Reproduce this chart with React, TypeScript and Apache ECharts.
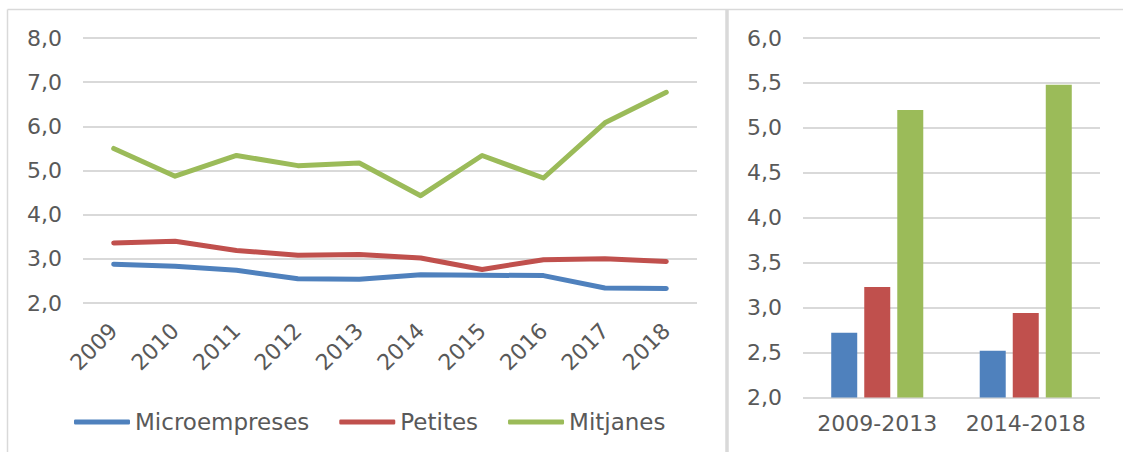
import React, { useEffect, useRef } from "react";
import * as echarts from "echarts";

const years = ["2009", "2010", "2011", "2012", "2013", "2014", "2015", "2016", "2017", "2018"];
const micro = [2.88, 2.83, 2.74, 2.55, 2.54, 2.64, 2.63, 2.62, 2.34, 2.33];
const petites = [3.36, 3.4, 3.19, 3.08, 3.1, 3.02, 2.76, 2.98, 3.0, 2.94];
const mitjanes = [5.5, 4.87, 5.34, 5.11, 5.17, 4.43, 5.34, 4.83, 6.08, 6.77];

const periods = ["2009-2013", "2014-2018"];
const microPeriod = [2.72, 2.52];
const petitesPeriod = [3.23, 2.94];
const mitjanesPeriod = [5.2, 5.48];

const names = ["Microempreses", "Petites", "Mitjanes"];
const colors = ["#4f81bd", "#c0504d", "#9bbb59"];

const FONT = "DejaVu Sans";
const TXT = "#595959";
const GRID = "#d9d9d9";

const fmt = (v: number) => v.toFixed(1).replace(".", ",");

export default function App() {
  const ref = useRef<HTMLDivElement>(null);
  useEffect(() => {
    if (!ref.current) return;
    const chart = echarts.init(ref.current, undefined, { renderer: "svg" });
    const lineData = [micro, petites, mitjanes];
    const barData = [microPeriod, petitesPeriod, mitjanesPeriod];
    chart.setOption({
      animation: false,
      backgroundColor: "#ffffff",
      textStyle: { fontFamily: FONT },
      grid: [
        { left: 83, top: 38, width: 614, height: 265 },
        { left: 803, top: 38, width: 297, height: 359.5 },
      ],
      xAxis: [
        {
          type: "category",
          gridIndex: 0,
          data: years,
          boundaryGap: true,
          axisLine: { show: false },
          axisTick: { show: false },
          axisLabel: { rotate: 45, margin: 24, fontSize: 22, color: TXT, fontFamily: FONT, interval: 0 },
        },
        {
          type: "category",
          gridIndex: 1,
          data: periods,
          axisLine: { show: false },
          axisTick: { show: false },
          axisLabel: { margin: 15, fontSize: 22, color: TXT, fontFamily: FONT, interval: 0 },
        },
      ],
      yAxis: [
        {
          type: "value",
          gridIndex: 0,
          min: 2,
          max: 8,
          interval: 1,
          axisLine: { show: false },
          axisTick: { show: false },
          splitLine: { lineStyle: { color: GRID, width: 2 } },
          axisLabel: { margin: 21, fontSize: 22, color: TXT, fontFamily: FONT, formatter: fmt },
        },
        {
          type: "value",
          gridIndex: 1,
          min: 2,
          max: 6,
          interval: 0.5,
          axisLine: { show: false },
          axisTick: { show: false },
          splitLine: { lineStyle: { color: GRID, width: 2 } },
          axisLabel: { margin: 21, fontSize: 22, color: TXT, fontFamily: FONT, formatter: fmt },
        },
      ],
      legend: {
        data: names,
        left: 69,
        top: 405,
        icon: "roundRect",
        itemWidth: 56,
        itemHeight: 5,
        itemGap: 30,
        itemTextGap: 5,
        textStyle: { fontSize: 23, color: TXT, fontFamily: FONT, lineHeight: 24 },
        selectedMode: false,
      },
      series: [
        ...names.map((n, i) => ({
          name: n,
          type: "line",
          xAxisIndex: 0,
          yAxisIndex: 0,
          data: lineData[i],
          symbol: "none",
          lineStyle: { color: colors[i], width: 5, cap: "round", join: "round" },
          itemStyle: { color: colors[i] },
        })),
        ...names.map((n, i) => ({
          name: n,
          type: "bar",
          xAxisIndex: 1,
          yAxisIndex: 1,
          data: barData[i],
          barWidth: 26,
          barGap: "27%",
          itemStyle: { color: colors[i] },
        })),
      ],
      graphic: [
        { type: "line", shape: { x1: 7.5, y1: 9.5, x2: 1123, y2: 9.5 }, style: { stroke: GRID, lineWidth: 1.5 } },
        { type: "line", shape: { x1: 7.5, y1: 9.5, x2: 7.5, y2: 452 }, style: { stroke: GRID, lineWidth: 1.5 } },
        { type: "line", shape: { x1: 727, y1: 9.5, x2: 727, y2: 452 }, style: { stroke: GRID, lineWidth: 3.5 } },
      ],
    });
    return () => chart.dispose();
  }, []);
  return (
    <div
      ref={ref}
      style={{ position: "fixed", left: 0, top: 0, width: 1123, height: 452, background: "#fff" }}
    />
  );
}
